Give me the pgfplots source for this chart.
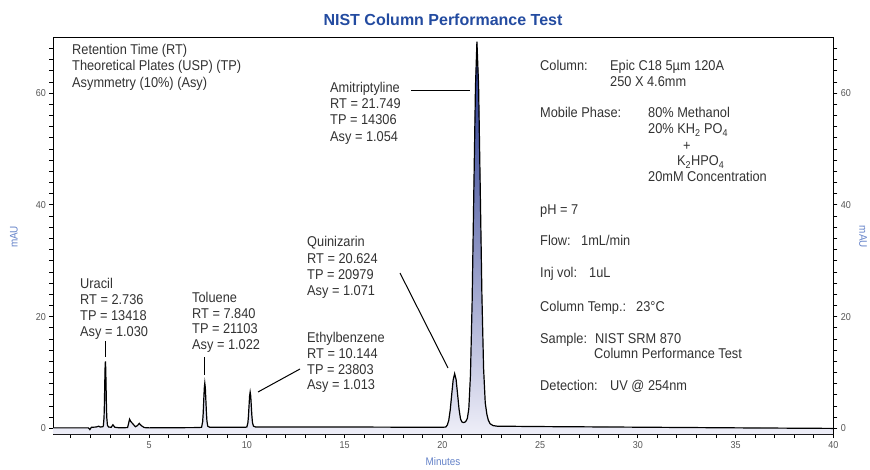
\documentclass[border=0pt]{standalone}
\usepackage{fontspec}
\setmainfont{Liberation Sans}[FakeStretch=0.9]
\newfontfamily\titlefont{Liberation Sans}
\usepackage{pgfplots}
\usepackage{pgfplotstable}
\pgfplotsset{compat=1.18}
\usepgfplotslibrary{fillbetween}

\definecolor{txt}{RGB}{50,50,50}
\definecolor{tickc}{RGB}{85,85,85}
\definecolor{ttl}{RGB}{35,75,160}
\definecolor{lbl}{RGB}{100,130,200}
\definecolor{shtop}{RGB}{28,45,135}
\definecolor{shbot}{RGB}{238,238,248}

\pgfplotstableread{
x y
0.1 0.1
1.0 0.1
1.9 0.1
1.97 -0.2
2.05 0.2
2.3 0.25
2.42 0.4
2.5 0.25
2.63 0.3
2.66 0.45
2.695 1.9
2.7125 4.1
2.73 7.4
2.7475 10.7
2.765 12.0
2.7825 10.7
2.80 7.4
2.8175 4.2
2.835 2.0
2.87 0.55
2.93 0.25
3.06 0.2
3.15 0.65
3.25 0.2
3.5 0.1
3.9 0.15
3.96 1.0
4.0 1.65
4.07 1.2
4.15 0.9
4.3 0.3
4.4 0.5
4.5 0.9
4.6 0.5
4.75 0.15
5.0 0.1
7.5 0.15
7.685 0.2
7.74 1.2
7.7675 2.7
7.795 4.95
7.8225 7.15
7.85 8.1
7.8775 7.2
7.905 5.0
7.9325 2.8
7.96 1.3
8.0 0.4
8.1 0.2
9.9 0.2
10.0 0.25
10.054 1.0
10.083 2.2
10.112 4.0
10.141 5.75
10.17 6.5
10.199 5.8
10.228 4.05
10.257 2.3
10.29 1.0
10.34 0.4
10.45 0.25
15 0.25
20.0 0.2
20.18 0.25
20.255 0.6
20.33 1.45
20.405 3.3
20.48 6.05
20.555 8.7
20.63 9.8
20.705 8.75
20.78 6.15
20.855 3.45
20.93 1.7
21.005 1.15
21.08 1.05
21.15 1.1
21.22 1.35
21.28 1.8
21.355 3.5
21.44 9.6
21.525 22.7
21.61 42.1
21.695 61.1
21.77 69.2
21.855 61.4
21.94 42.8
22.025 23.8
22.11 10.8
22.195 4.6
22.28 2.5
22.35 1.5
22.44 0.85
22.6 0.5
22.8 0.4
25 0.33
30 0.22
35 0.1
40 0.0
}\chrom

\begin{document}
\begin{tikzpicture}[font=\fontsize{14.2}{16.5}\selectfont]
\begin{axis}[
  at={(0pt,0pt)}, anchor=south west, scale only axis,
  width=780pt, height=396.7pt,
  xmin=0.1, xmax=40, ymin=-1, ymax=70,
  axis line style={line width=1.1pt, black},
  tick align=outside,
  xtick={5,10,...,40}, minor xtick={1,2,...,39},
  ytick={0,20,40,60}, minor ytick={2,4,...,68},
  major tick length=4pt, minor tick length=4pt,
  xtick pos=left, ytick pos=left,
  every tick/.style={black, line width=0.9pt},
  tick label style={font=\fontsize{10}{12}\selectfont, text=tickc},
  /pgf/number format/assume math mode=true,
]
\addplot[name path=curve, black, line width=1.2pt] table {\chrom};
\path[name path=base] (axis cs:0.1,-1) -- (axis cs:40,-1);
\addplot[draw=none, top color=shtop, bottom color=shbot] fill between[of=curve and base];
\end{axis}
\begin{axis}[
  at={(0pt,0pt)}, anchor=south west, scale only axis,
  width=780pt, height=396.7pt,
  xmin=0.1, xmax=40, ymin=-1, ymax=70,
  axis x line=none, axis y line*=right,
  axis line style={line width=1.1pt, black},
  tick align=outside,
  ytick={0,20,40,60}, minor ytick={2,4,...,68},
  major tick length=4pt, minor tick length=4pt,
  every tick/.style={black, line width=0.9pt},
  tick label style={font=\fontsize{10}{12}\selectfont, text=tickc},
  /pgf/number format/assume math mode=true,
]
\addplot[draw=none] coordinates {(1,0) (39,60)};
\end{axis}
\begin{scope}[x=1pt, y=-1pt, shift={(-53.3pt,434pt)},
  lab/.style={anchor=base west, inner sep=0pt, text=txt}]
% title and axis labels
\node[text=ttl, font=\titlefont\bfseries\fontsize{16}{18}\selectfont] at (443,20) {NIST Column Performance Test};
\node[text=lbl, font=\fontsize{11}{12}\selectfont, inner sep=0pt] at (443,462) {Minutes};
\node[text=lbl, font=\fontsize{11}{12}\selectfont, rotate=90] at (14,237) {mAU};
\node[text=lbl, font=\fontsize{11}{12}\selectfont, rotate=-90, inner sep=0pt] at (863,237) {mAU};
% legend block
\node[lab] at (72,55) {Retention Time (RT)};
\node[lab] at (72,71) {Theoretical Plates (USP) (TP)};
\node[lab] at (72,88) {Asymmetry (10\%) (Asy)};
% Uracil
\node[lab] at (80,288) {Uracil};
\node[lab] at (80,304) {RT = 2.736};
\node[lab] at (80,320) {TP = 13418};
\node[lab] at (80,336) {Asy = 1.030};
\draw[line width=1pt] (105.3,341) -- (105.3,357);
% Toluene
\node[lab] at (192,302) {Toluene};
\node[lab] at (192,318) {RT = 7.840};
\node[lab] at (192,333) {TP = 21103};
\node[lab] at (192,349) {Asy = 1.022};
\draw[line width=1pt] (204.7,357) -- (204.7,375);
% Ethylbenzene
\node[lab] at (307,342) {Ethylbenzene};
\node[lab] at (307,358) {RT = 10.144};
\node[lab] at (307,374) {TP = 23803};
\node[lab] at (307,389) {Asy = 1.013};
\draw[line width=1pt] (258,392) -- (300,369);
% Quinizarin
\node[lab] at (307,247) {Quinizarin};
\node[lab] at (307,263) {RT = 20.624};
\node[lab] at (307,279) {TP = 20979};
\node[lab] at (307,295) {Asy = 1.071};
\draw[line width=1pt] (400,273) -- (448,368);
% Amitriptyline
\node[lab] at (330,93) {Amitriptyline};
\node[lab] at (330,109) {RT = 21.749};
\node[lab] at (330,125) {TP = 14306};
\node[lab] at (330,142) {Asy = 1.054};
\draw[line width=1pt] (411,91) -- (470,91);
% method block
\node[lab] at (540,71) {Column:};
\node[lab] at (610,71) {Epic C18 5µm 120A};
\node[lab] at (610,87) {250 X 4.6mm};
\node[lab] at (540,118) {Mobile Phase:};
\node[lab] at (648,118) {80\% Methanol};
\node[lab] at (648,134) {20\% KH\textsubscript{2} PO\textsubscript{4}};
\node[lab] at (683,151) {+};
\node[lab] at (677,166) {K\textsubscript{2}HPO\textsubscript{4}};
\node[lab] at (648,182) {20mM Concentration};
\node[lab] at (540,215) {pH = 7};
\node[lab] at (540,246) {Flow:};
\node[lab] at (581,246) {1mL/min};
\node[lab] at (540,277) {Inj vol:};
\node[lab] at (589,277) {1uL};
\node[lab] at (540,311) {Column Temp.:};
\node[lab] at (636,311) {23°C};
\node[lab] at (540,343) {Sample:};
\node[lab] at (595,343) {NIST SRM 870};
\node[lab] at (594,358) {Column Performance Test};
\node[lab] at (540,390) {Detection:};
\node[lab] at (610,390) {UV @ 254nm};
\end{scope}
\pgfresetboundingbox
\useasboundingbox (-53.3pt,-35pt) rectangle (816.7pt,434pt);
\end{tikzpicture}
\end{document}
